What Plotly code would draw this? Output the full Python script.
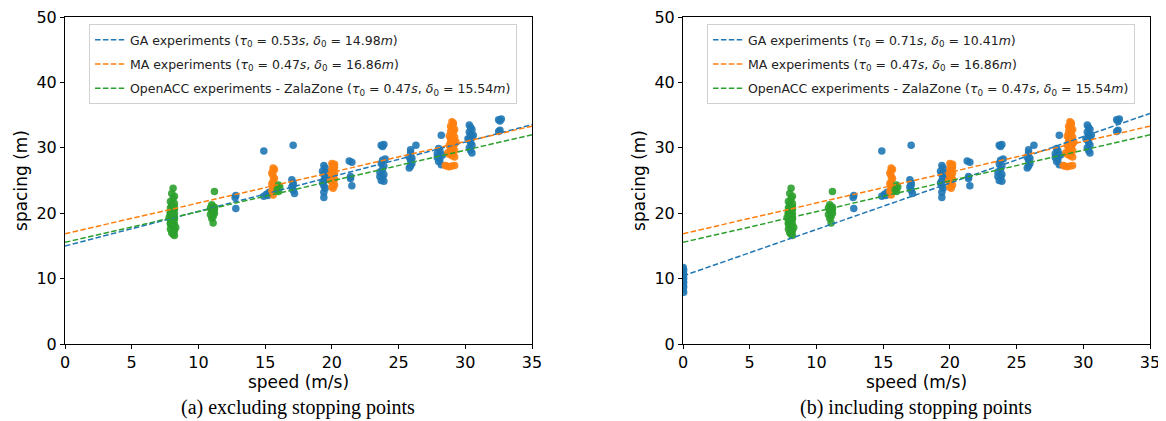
import plotly.graph_objects as go

# ---------------- data ----------------
ga_speed = [12.8, 12.8, 12.75,
            14.9, 14.9, 15.1, 15.3, 15.2,
            17.1, 17.0, 17.1, 17.0, 17.1, 17.2, 17.1,
            19.4, 19.5, 19.3, 19.4, 19.5, 19.4, 19.3, 19.4, 19.5, 19.4, 19.4, 19.6, 19.6,
            21.3, 21.5, 21.4, 21.5, 21.4,
            23.7, 23.8, 23.9, 23.8, 23.7, 23.9, 23.8, 23.6, 23.9, 23.8, 23.7, 23.9, 24.0, 23.6,
            25.9, 26.3, 25.9, 25.8, 25.9, 26.0, 25.9, 25.8, 26.0,
            28.2, 28.0, 28.1, 27.9, 28.0, 28.1, 28.0, 28.2, 28.3, 27.9,
            30.3, 30.4, 30.5, 30.3, 30.4, 30.5, 30.3, 30.4, 30.5, 30.3, 30.4, 30.5, 30.6, 30.2,
            32.5, 32.7, 32.6, 32.6, 32.5]
ga_spacing = [22.7, 20.7, 22.4,
              29.5, 22.6, 22.9, 23.2, 22.7,
              30.4, 25.1, 24.6, 24.0, 23.5, 23.0, 24.3,
              27.3, 26.9, 26.4, 25.9, 25.4, 25.0, 24.6, 24.2, 23.8, 23.2, 22.4, 26.2, 25.2,
              28.0, 27.8, 25.3, 24.2, 25.6,
              30.4, 30.2, 30.5, 28.1, 27.6, 27.2, 26.7, 26.3, 25.9, 25.5, 25.0, 24.9, 28.3, 25.6,
              29.7, 30.4, 29.2, 28.6, 28.1, 27.6, 27.2, 26.9, 28.4,
              31.9, 29.9, 29.5, 29.1, 28.7, 28.3, 27.9, 27.4, 28.9, 28.5,
              33.5, 33.1, 32.8, 32.4, 32.0, 31.6, 31.2, 30.8, 30.4, 30.0, 29.6, 29.2, 31.9, 31.4,
              34.3, 34.4, 34.1, 32.7, 32.5]

ga_stop_speed = [0.02, 0.05, 0.0, 0.05, 0.02, 0.05, 0.0, 0.05, 0.02, 0.05, 0.0, 0.05]
ga_stop_spacing = [11.7, 11.3, 10.9, 10.6, 10.3, 10.0, 9.7, 9.4, 9.1, 8.7, 8.3, 7.9]

ma_speed = [15.6, 15.6, 15.5, 15.6, 15.7, 15.6, 15.5, 15.6, 15.6, 15.5, 15.6, 15.7,
            20.0, 20.1, 20.2, 20.0, 20.1, 20.2, 20.0, 20.1, 20.2, 20.0, 20.1, 20.2, 20.0, 20.1, 20.2, 19.9, 20.1, 20.0,
            29.0, 29.1, 28.9, 29.0, 29.2, 28.9, 29.1, 29.0, 28.8, 29.2, 29.0, 29.1, 28.9, 29.0, 29.2, 28.8, 29.1, 29.0,
            28.9, 29.2, 29.0, 29.1, 28.8, 29.0, 29.2, 28.9, 29.1, 29.0, 28.7, 29.3, 28.6, 28.8, 29.0, 29.2, 28.5, 29.1]
ma_spacing = [26.9, 26.5, 26.1, 25.7, 25.3, 24.9, 24.5, 24.1, 23.7, 23.3, 22.8, 26.7,
              27.6, 27.3, 27.0, 26.7, 26.4, 26.1, 25.8, 25.5, 25.2, 24.9, 24.6, 24.3, 24.0, 23.8, 27.5, 25.0, 26.9, 26.0,
              34.0, 33.6, 33.3, 33.0, 32.8, 32.5, 32.2, 32.0, 31.8, 31.6, 31.4, 31.2, 31.0, 30.8, 30.6, 30.4, 30.2, 30.0,
              29.8, 29.6, 29.4, 29.2, 29.0, 28.8, 28.6, 31.5, 32.6, 30.5, 29.3, 30.9, 27.2, 27.1, 27.2, 27.3, 27.3, 33.8]

oa_speed = [8.1, 8.0, 8.2, 8.1, 7.9, 8.2, 8.0, 8.1, 7.9, 8.2, 8.0, 8.1, 7.9, 8.2, 8.0, 8.1, 7.8, 8.2, 8.0, 8.1,
            7.9, 8.2, 8.0, 8.1, 7.9, 8.2, 8.0, 8.1, 8.2, 8.0, 7.9, 8.1, 8.2, 8.0, 7.9, 8.3, 8.1, 8.0, 8.2, 7.9,
            11.2, 11.0, 11.1, 10.9, 11.2, 11.0, 11.1, 11.2, 10.9, 11.1, 11.0, 11.1, 11.2, 11.1,
            16.0, 16.1, 15.9, 16.0]
oa_spacing = [23.8, 23.0, 22.6, 22.2, 21.8, 21.5, 21.2, 21.0, 20.8, 20.6, 20.4, 20.2, 20.0, 19.9, 19.7, 19.5, 19.3, 19.1, 18.9, 18.7,
              18.5, 18.3, 18.1, 17.9, 17.6, 17.3, 17.0, 16.8, 16.6, 20.5, 20.1, 19.6, 19.2, 18.8, 18.4, 17.8, 17.2, 21.3, 20.9, 19.8,
              23.3, 21.3, 21.0, 20.8, 20.6, 20.4, 20.2, 20.0, 19.8, 19.5, 19.2, 18.5, 20.9, 20.3,
              24.3, 24.0, 23.6, 23.3]

# fitted parameters (tau0 [s], delta0 [m])
fit_left = {"GA": (0.53, 14.98), "MA": (0.47, 16.86), "OA": (0.47, 15.54)}
fit_right = {"GA": (0.71, 10.41), "MA": (0.47, 16.86), "OA": (0.47, 15.54)}
line_speed = [0, 35]

x_ticks = [0, 5, 10, 15, 20, 25, 30, 35]
y_ticks = [0, 10, 20, 30, 40, 50]

captions = ["(a) excluding stopping points", "(b) including stopping points"]

# ---------------- styling ----------------
C_GA, C_MA, C_OA = "#1f77b4", "#ff7f0e", "#2ca02c"
names = {"GA": "GA experiments", "MA": "MA experiments", "OA": "OpenACC experiments - ZalaZone"}
colors = {"GA": C_GA, "MA": C_MA, "OA": C_OA}

fig = go.Figure()

def add_panel(xa, ya, legend, fits, with_stops):
    gx = list(ga_speed) + (ga_stop_speed if with_stops else [])
    gy = list(ga_spacing) + (ga_stop_spacing if with_stops else [])
    for key, (sx, sy) in (("GA", (gx, gy)), ("MA", (ma_speed, ma_spacing)), ("OA", (oa_speed, oa_spacing))):
        fig.add_trace(go.Scatter(x=sx, y=sy, mode="markers", xaxis=xa, yaxis=ya,
                                 marker=dict(size=7.5, color=colors[key], opacity=0.9, line=dict(width=0)),
                                 showlegend=False, hoverinfo="skip"))
    for key in ("GA", "MA", "OA"):
        tau, d0 = fits[key]
        ly = [tau * v + d0 for v in line_speed]
        label = (f"{names[key]} (<i>τ</i><sub>0</sub> = {tau:.2f}<i>s</i>, "
                 f"<i>δ</i><sub>0</sub> = {d0:.2f}<i>m</i>)")
        fig.add_trace(go.Scatter(x=line_speed, y=ly, mode="lines", xaxis=xa, yaxis=ya,
                                 line=dict(color=colors[key], width=1.5, dash="5.5px,2.4px"),
                                 name=label, legend=legend, legendgroup=legend + key))

add_panel("x", "y", "legend", fit_left, False)
add_panel("x2", "y2", "legend2", fit_right, True)

# page body adds an 8px offset; size the figure to fill the rest of the window
OFF = 8
W, H = 1166 - OFF, 421 - OFF


def px(x):
    return (x - OFF) / W


def py(y):
    return (H - (y - OFF)) / H


ydom = [py(344), py(17)]
axis_common = dict(showline=True, linecolor="black", linewidth=1, mirror=True, automargin=False,
                   ticks="outside", ticklen=4, tickcolor="black", showgrid=False, zeroline=False,
                   ticklabeloverflow="allow",
                   tickfont=dict(family="DejaVu Sans", size=16, color="black"))
title_font = dict(family="DejaVu Sans", size=17, color="black")

fig.update_layout(
    width=W, height=H, margin=dict(l=0, r=0, t=0, b=0),
    paper_bgcolor="white", plot_bgcolor="white",
    xaxis=dict(domain=[px(65), px(532)], range=[0, 35], tickvals=x_ticks, anchor="y",
               title=dict(text="speed (m/s)", font=title_font, standoff=2), **axis_common),
    yaxis=dict(domain=ydom, range=[0, 50], tickvals=y_ticks, anchor="x",
               title=dict(text="spacing (m)", font=title_font, standoff=4), **axis_common),
    xaxis2=dict(domain=[px(683), px(1150)], range=[0, 35], tickvals=x_ticks, anchor="y2",
                title=dict(text="speed (m/s)", font=title_font, standoff=2), **axis_common),
    yaxis2=dict(domain=ydom, range=[0, 50], tickvals=y_ticks, anchor="x2",
                title=dict(text="spacing (m)", font=title_font, standoff=4), **axis_common),
    legend=dict(x=px(89), y=py(24), xanchor="left", yanchor="top",
                bgcolor="rgba(255,255,255,0.85)", bordercolor="#d0d0d0", borderwidth=1,
                font=dict(family="DejaVu Sans", size=12.5, color="#222"),
                traceorder="grouped", tracegroupgap=5, itemwidth=30),
    legend2=dict(x=px(707), y=py(24), xanchor="left", yanchor="top",
                 bgcolor="rgba(255,255,255,0.85)", bordercolor="#d0d0d0", borderwidth=1,
                 font=dict(family="DejaVu Sans", size=12.5, color="#222"),
                 traceorder="grouped", tracegroupgap=5, itemwidth=30),
)

for cx, txt in zip([298, 916], captions):
    fig.add_annotation(text=txt, x=px(cx), y=py(407), xref="paper", yref="paper",
                       showarrow=False, xanchor="center", yanchor="middle",
                       font=dict(family="Liberation Serif", size=20, color="black"))

fig.write_html("out.html")
